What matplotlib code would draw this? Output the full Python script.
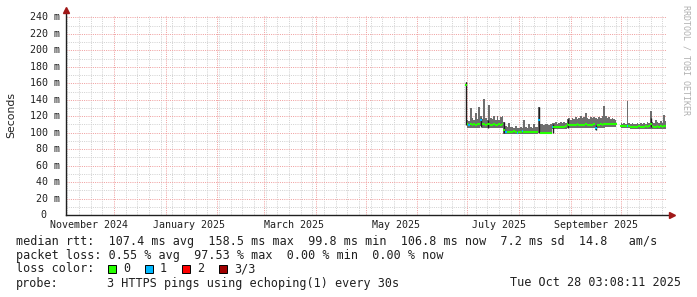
import numpy as np
import pandas as pd
import matplotlib
matplotlib.use("Agg")
import matplotlib.pyplot as plt
import matplotlib.dates as mdates
from matplotlib.patches import Rectangle
from datetime import datetime

# veriler (gunluk, 30 Haz 2025 - 28 Eki 2025), milisaniye
median_ms = [158, 110, 109, 111, 109, 110, 109, 110, 111, 116,
             110, 110, 109, 111, 110, 109, 109, 110, 109, 109,
             110, 109, 110, 103, 101, 101, 101, 101, 101, 102,
             101, 100, 101, 101, 102, 101, 101, 101, 101, 101,
             101, 101, 101, 101, 116, 100, 100, 100, 100, 100,
             100, 100, 107, 107, 107, 107, 107, 107, 107, 107,
             108, 110, 109, 109, 109, 109, 109, 110, 109, 109,
             109, 109, 110, 109, 109, 109, 109, 110, 106, 109,
             109, 110, 109, 110, 110, 110, 110, 110, 110, 110,
             110, np.nan, np.nan, 108, 108, 108, 108, 108, 108, 107,
             107, 107, 107, 107, 108, 107, 107, 107, 108, 107,
             108, 110, 108, 107, 107, 108, 107, 108, 107, 108,
             108]
min_ms = [109, 106, 106, 106, 106, 106, 106, 106, 106, 108,
          106, 106, 106, 106, 106, 106, 106, 106, 106, 106,
          106, 106, 106, 99, 99, 99, 99, 99, 99, 99,
          99, 98, 99, 99, 99, 99, 99, 99, 99, 99,
          99, 99, 99, 99, 100, 98, 98, 98, 98, 98,
          98, 98, 105, 105, 105, 105, 105, 105, 105, 105,
          105, 106, 106, 106, 106, 106, 106, 106, 106, 106,
          106, 106, 106, 106, 106, 106, 106, 106, 103, 106,
          106, 106, 106, 106, 107, 107, 107, 107, 107, 107,
          107, np.nan, np.nan, 106, 106, 106, 106, 106, 106, 105,
          105, 105, 105, 105, 105, 105, 105, 105, 105, 105,
          105, 105, 105, 105, 105, 105, 105, 105, 105, 105,
          105]
max_ms = [161, 115, 114, 130, 118, 116, 124, 117, 131, 120,
          117, 141, 118, 116, 134, 118, 117, 120, 115, 120,
          115, 119, 120, 113, 108, 107, 112, 107, 107, 106,
          108, 106, 106, 107, 106, 115, 107, 106, 111, 107,
          106, 110, 107, 107, 131, 110, 110, 109, 110, 110,
          109, 110, 112, 112, 113, 111, 112, 113, 112, 113,
          112, 117, 118, 116, 118, 117, 119, 117, 118, 120,
          118, 119, 124, 118, 117, 119, 118, 119, 118, 117,
          119, 118, 120, 132, 120, 118, 119, 117, 118, 117,
          116, np.nan, np.nan, 112, 111, 112, 111, 138, 112, 111,
          112, 111, 111, 112, 111, 112, 111, 112, 111, 113,
          112, 126, 113, 112, 115, 113, 112, 114, 112, 121,
          114]

# 1/3 kayip olan gunler
loss1_idx = [2, 9, 24, 31, 34, 44, 52, 78, 97]
# koyu duman cizgileri
dark_idx = [0, 9, 13, 23, 44, 52, 61, 78, 111]
dark_lo = [109, 107, 106, 100, 100, 100, 106, 103, 107]
dark_hi = [161, 118, 116, 113, 131, 110, 117, 109, 118]

loss_labels = ["0", "1", "2", "3/3"]
loss_colors = ["#26ff00", "#00b8ff", "#ff0000", "#a00000"]

y_vals = list(range(0, 241, 20))
y_labels = ["0"] + ["%d m" % v for v in y_vals[1:]]
x_label_dates = ["2024-11-16", "2025-01-15", "2025-03-19", "2025-05-19", "2025-07-20", "2025-09-16"]
x_labels = ["November 2024", "January 2025", "March 2025", "May 2025", "July 2025", "September 2025"]

dates = pd.date_range("2025-06-30 03:00", periods=len(median_ms), freq="D")
t = mdates.date2num(dates.to_pydatetime())
med = np.array(median_ms, dtype=float)
lo = np.array(min_ms, dtype=float)
hi = np.array(max_ms, dtype=float)

W, H = 697, 297
fig = plt.figure(figsize=(W / 100, H / 100), dpi=100)
fig.patch.set_facecolor("white")
ax = fig.add_axes([66 / W, (H - 215) / H, 600 / W, 200 / H])
ax.set_xlim(mdates.date2num(datetime(2024, 11, 2, 3, 8, 11)), mdates.date2num(datetime(2025, 10, 28, 3, 8, 11)))
ax.set_ylim(0, 243)
for s in ax.spines.values():
    s.set_visible(False)

# izgara (noktali)
ax.xaxis.set_major_locator(mdates.MonthLocator())
ax.xaxis.set_minor_locator(mdates.WeekdayLocator(byweekday=mdates.SU))
ax.set_yticks(y_vals)
ax.set_yticks(range(10, 240, 20), minor=True)
ax.grid(True, which="minor", color="#d2d2d2", linestyle=(0, (1, 1.2)), linewidth=0.72)
ax.grid(True, which="major", color="#f0a0a0", linestyle=(0, (1, 1.2)), linewidth=0.72)
ax.tick_params(which="both", length=0, labelbottom=False, labelleft=False)
ax.set_axisbelow(True)

# duman + medyan
ok = ~np.isnan(hi)
ax.fill_between(t, lo, hi, where=ok, step="mid", color="#6e6e6e", linewidth=0, zorder=2)
ax.vlines(t[dark_idx], dark_lo, dark_hi, color="#1e1e1e", linewidth=1.0, zorder=3)
ax.hlines(med, t - 0.5, t + 0.5, color=loss_colors[0], linewidth=1.5, zorder=4)
ax.hlines(med[loss1_idx], t[loss1_idx] - 0.5, t[loss1_idx] + 0.5, color=loss_colors[1], linewidth=1.5, zorder=5)

# eksenler ve oklar
ax.plot([0, 1.008], [0, 0], transform=ax.transAxes, color="#202020", linewidth=1, clip_on=False, zorder=6)
ax.plot([0, 0], [0, 1.015], transform=ax.transAxes, color="#202020", linewidth=1, clip_on=False, zorder=6)
ax.plot([1.01], [0], transform=ax.transAxes, marker=">", markersize=4.5, color="#a01818", clip_on=False, zorder=7)
ax.plot([0], [1.025], transform=ax.transAxes, marker="^", markersize=4.5, color="#a01818", clip_on=False, zorder=7)

mono = "DejaVu Sans Mono"
ytr = ax.get_yaxis_transform()
for v, lab in zip(y_vals, y_labels):
    xx = -6 / 600 if v else -20 / 600
    ax.text(xx, v, lab, transform=ytr, ha="right", va="center", fontsize=7.2, family=mono, color="#202020")
xtr = ax.get_xaxis_transform()
for d, lab in zip(x_label_dates, x_labels):
    ax.text(mdates.date2num(pd.Timestamp(d).to_pydatetime()), -10 / 200, lab, transform=xtr,
            ha="center", va="center", fontsize=7.2, family=mono, color="#202020")

fig.text(11 / W, 1 - 115 / H, "Seconds", rotation=90, ha="center", va="center", fontsize=7.8, color="#202020")
fig.text(686 / W, 1 - 60 / H, "RRDTOOL / TOBI OETIKER", rotation=270, ha="center", va="center",
         fontsize=6, family=mono, color="#b0b0b0")

# lejant
fs = 8.5
fig.text(16 / W, 1 - 241 / H, "median rtt:  107.4 ms avg  158.5 ms max  99.8 ms min  106.8 ms now  7.2 ms sd  14.8   am/s",
         ha="left", va="center", fontsize=fs, family=mono, color="#202020")
fig.text(16 / W, 1 - 255 / H, "packet loss: 0.55 % avg  97.53 % max  0.00 % min  0.00 % now",
         ha="left", va="center", fontsize=fs, family=mono, color="#202020")
fig.text(16 / W, 1 - 269 / H, "loss color:", ha="left", va="center", fontsize=fs, family=mono, color="#202020")
for k, (lab, c) in enumerate(zip(loss_labels, loss_colors)):
    x0 = 108 + 37 * k
    fig.patches.append(Rectangle((x0 / W, (H - 273) / H), 8 / W, 8 / H, transform=fig.transFigure,
                                 facecolor=c, edgecolor="black", linewidth=0.7))
    fig.text((x0 + 15) / W, 1 - 269 / H, lab, ha="left", va="center", fontsize=fs, family=mono, color="#202020")
fig.text(16 / W, 1 - 283 / H, "probe:", ha="left", va="center", fontsize=fs, family=mono, color="#202020")
fig.text(107 / W, 1 - 283 / H, "3 HTTPS pings using echoping(1) every 30s", ha="left", va="center",
         fontsize=fs, family=mono, color="#202020")
fig.text(681 / W, 1 - 283 / H, "Tue Oct 28 03:08:11 2025", ha="right", va="center",
         fontsize=fs, family=mono, color="#202020")

fig.savefig("out.png", dpi=100)
